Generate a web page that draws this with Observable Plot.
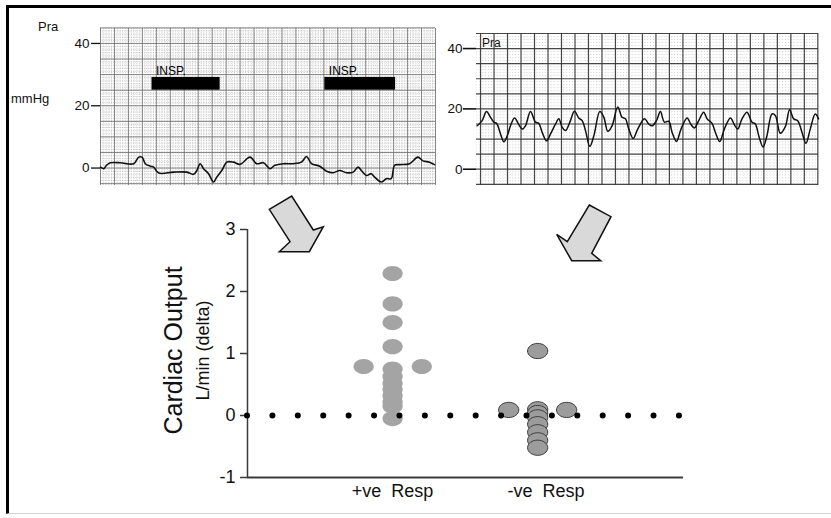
<!DOCTYPE html>
<html><head><meta charset="utf-8">
<script src="https://cdn.jsdelivr.net/npm/d3@7"></script>
<script src="https://cdn.jsdelivr.net/npm/@observablehq/plot@0.6"></script>
<style>
html,body{margin:0;padding:0;background:#fff;overflow:hidden;}
#page{position:relative;width:831px;height:518px;overflow:hidden;font-family:"Liberation Sans",Arial,sans-serif;}
.abs{position:absolute;}
#frame{position:absolute;left:6px;top:5px;width:840px;height:509px;border-top:3px solid #000;border-left:3px solid #000;border-bottom:1px solid #d4d4d4;box-sizing:border-box;}
.lbl{position:absolute;font-size:13px;line-height:13px;color:#111;white-space:nowrap;}
</style></head>
<body><div id="page">
<div id="frame"></div>
<div id="leftTrace" class="abs" style="left:0;top:0"></div>
<div id="rightTrace" class="abs" style="left:440px;top:0"></div>
<div id="scatter" class="abs" style="left:150px;top:215px"></div>
<div class="lbl" style="left:38px;top:20px">Pra</div>
<div class="lbl" style="left:11px;top:92px">mmHg</div>
<svg class="abs" style="left:0;top:0;pointer-events:none" width="831" height="518" aria-hidden="true">
  <!-- decorative block arrows -->
  <polygon points="269.3,209.3 291.7,196 313.3,230 323.3,226.7 309.3,251.7 279.3,251.7 290,241.7" fill="#d9d9d9" stroke="#111" stroke-width="1.5" stroke-linejoin="miter"/>
  <polygon points="589.3,205 611,216.7 591.7,253.3 600.7,260.7 571.7,260.7 556.7,234.3 567.3,241.7" fill="#d9d9d9" stroke="#111" stroke-width="1.5" stroke-linejoin="miter"/>
</svg>
</div>
<script>
// ---- Left trace (Pra with respiratory variation) ----
const leftT = [0,0.24,0.43,0.71,1.43,2.38,2.74,2.98,3.21,3.57,3.81,4.17,5.24,6.19,6.67,6.9,7.14,7.38,7.74,8.1,8.33,8.69,9.05,9.52,10.0,10.71,11.19,11.67,12.14,12.5,13.1,13.81,14.4,14.76,15.12,15.71,16.19,16.67,17.14,17.62,18.1,18.45,18.69,19.05,19.4,19.64,20.12,20.48,20.83,21.07,21.43,22.14,22.74,23.1,23.57,23.93];
const leftP = [0.3,-0.2,0.9,1.7,1.7,1.4,3.5,3.5,1.4,0.6,0.3,-1.6,-1.3,-1.3,-2.0,-0.8,1.4,-0.2,-1.8,-4.5,-2.9,-0.8,1.9,1.9,1.2,3.5,1.4,1.7,-0.2,0.9,1.4,1.4,1.9,3.7,1.4,0.6,-1.0,-1.5,-0.8,-1.5,-1.3,0.3,-0.8,-2.4,-1.8,-2.9,-4.5,-3.4,-3.4,0.9,1.1,1.4,3.5,2.3,1.9,1.1];
const inspLabels = ["INSP.", "INSP."];
const inspStart = [3.69, 16.07];
const inspEnd = [8.57, 21.14];
const inspLow = [25.0, 25.0];
const inspHigh = [29.1, 29.1];
const leftYTicks = [0, 20, 40];

// ---- Right trace (Pra without respiratory variation) ----
const rightT = [-0.25,0.12,0.44,0.74,0.99,1.19,1.48,1.73,1.98,2.22,2.52,2.84,3.09,3.33,3.7,4.07,4.32,4.57,4.89,5.19,5.56,5.8,6.05,6.3,6.62,6.96,7.28,7.53,7.78,8.1,8.4,8.84,9.14,9.43,9.75,10.17,10.49,10.74,10.99,11.31,11.65,12.15,12.47,12.72,13.04,13.33,13.63,13.95,14.2,14.52,14.86,15.31,15.6,15.85,16.17,16.54,16.79,17.16,17.41,17.73,18.07,18.52,18.81,19.06,19.38,19.75,20.12,20.37,20.62,20.94,21.23,21.6,21.85,22.22,22.59,22.91,23.21,23.51,23.83,24.12,24.44,24.81,25.05];
const rightP = [14.4,16.1,19.1,17.2,15.6,15.2,11.7,9.1,11.1,14.4,17.0,14.8,13.3,14.4,19.1,15.6,15.2,12.2,9.4,11.7,15.0,16.7,13.9,12.8,15.6,19.2,17.0,16.1,12.8,7.6,11.1,19.1,17.2,12.6,14.4,20.6,17.2,16.7,13.3,10.2,13.3,16.7,15.0,14.4,16.1,19.1,15.6,15.9,12.2,9.2,13.3,17.0,14.8,13.7,16.1,18.9,16.7,15.2,12.2,9.2,13.3,17.0,14.8,13.3,16.7,18.9,15.6,15.0,11.1,7.4,11.1,18.3,17.8,11.9,14.1,19.7,16.7,16.1,12.2,8.6,13.3,18.3,16.7];
const rightYTicks = [0, 20, 40];
const traceLabel = ["Pra"];

// ---- Scatter: change in cardiac output ----
const categories = ["+ve  Resp", "-ve  Resp"];
const categoryPos = [5.71, 11.42];
const categoryLabelPos = [5.71, 11.75];
const posValues  = [2.29, 1.8, 1.5, 1.11, 0.79, 0.79, 0.75, 0.63, 0.52, 0.42, 0.32, 0.22, 0.15, -0.05];
const posOffsets = [0, 0, 0, 0, -1.14, 1.15, 0, 0, 0, 0, 0, 0, 0, 0];
const negValues  = [1.04, 0.09, 0.09, 0.1, 0.04, -0.03, -0.14, -0.27, -0.4, -0.52];
const negOffsets = [0, -1.14, 1.14, 0, 0, 0, 0, 0, 0, 0];
const scatterYTicks = [-1, 0, 1, 2, 3];

const font = "Liberation Sans, Arial, sans-serif";
const fmt = d => String(d);

// ---------- left trace ----------
const minorL_X = d3.range(0, 24.001, 0.2);
const majorL_X = d3.range(0, 24.001, 1);
const minorL_Y = d3.range(-5, 45.001, 1);
const majorL_Y = d3.range(-5, 45.001, 5);
const leftData = leftT.map((t, i) => ({t, p: leftP[i]}));
const inspData = inspLabels.map((s, i) => ({s, x1: inspStart[i], x2: inspEnd[i], y1: inspLow[i], y2: inspHigh[i]}));

const left = Plot.plot({
  width: 440, height: 195,
  marginLeft: 100, marginRight: 5, marginTop: 28, marginBottom: 10,
  style: {fontFamily: font, background: "transparent", color: "#111", overflow: "visible"},
  x: {domain: [0, 24], axis: null},
  y: {domain: [-5.6, 44.8], axis: null},
  marks: [
    Plot.gridX(minorL_X, {stroke: "#9a9a9a", strokeOpacity: 0.55, strokeDasharray: "1 1.2"}),
    Plot.gridY(minorL_Y, {stroke: "#9a9a9a", strokeOpacity: 0.55, strokeDasharray: "1 1.2"}),
    Plot.gridX(majorL_X, {stroke: "#666", strokeOpacity: 0.85, strokeWidth: 0.9}),
    Plot.gridY(majorL_Y, {stroke: "#666", strokeOpacity: 0.85, strokeWidth: 0.9}),
    Plot.axisY(leftYTicks, {tickSize: 9, tickPadding: 2, fontSize: 13.5, tickFormat: fmt, strokeWidth: 1.3, stroke: "#111", label: null}),
    Plot.rect(inspData, {x1: "x1", x2: "x2", y1: "y1", y2: "y2", fill: "#000"}),
    Plot.text(inspData, {x: "x1", y: d => d.y2 + 1.9, text: "s", textAnchor: "start", dx: 4, fontSize: 12, fill: "#000"}),
    Plot.line(leftData, {x: "t", y: "p", stroke: "#111", strokeWidth: 1.6, curve: "catmull-rom"})
  ]
});
document.getElementById("leftTrace").append(left);

// ---------- right trace ----------
const minorR_X = d3.range(0, 25.001, 0.2);
const majorR_X = d3.range(0, 25.001, 1);
const majorR_Y = d3.range(-5, 45.001, 5);
const minorR_Y = d3.range(-5, 45.001, 1);
const rightData = rightT.map((t, i) => ({t, p: rightP[i]}));

const right = Plot.plot({
  width: 391, height: 195,
  marginLeft: 36, marginRight: 13, marginTop: 33, marginBottom: 10,
  style: {fontFamily: font, background: "transparent", color: "#111", overflow: "visible"},
  x: {domain: [-0.3, 25.05], axis: null},
  y: {domain: [-5.4, 45], axis: null},
  marks: [
    Plot.gridX(minorR_X, {stroke: "#aaa", strokeOpacity: 0.3, strokeDasharray: "1 2"}),
    Plot.gridY(minorR_Y, {stroke: "#aaa", strokeOpacity: 0.3, strokeDasharray: "1 2"}),
    Plot.gridX(majorR_X, {stroke: "#333", strokeOpacity: 0.9, strokeWidth: 1.2}),
    Plot.gridY(majorR_Y, {stroke: "#333", strokeOpacity: 0.9, strokeWidth: 1.2}),
    Plot.axisY(rightYTicks, {tickSize: 13, tickPadding: 1, fontSize: 13.5, tickFormat: fmt, strokeWidth: 1.6, stroke: "#111", label: null}),
    Plot.text(traceLabel, {x: 0.1, y: 41.7, textAnchor: "start", fontSize: 12, fill: "#111"}),
    Plot.line(rightData, {x: "t", y: "p", stroke: "#111", strokeWidth: 1.5, curve: "catmull-rom"})
  ]
});
document.getElementById("rightTrace").append(right);

// ---------- scatter ----------
const ellipse = {
  draw(ctx, size) {
    const r = Math.sqrt(size / Math.PI), rx = r * 1.33, ry = r, k = 0.5523;
    ctx.moveTo(rx, 0);
    ctx.bezierCurveTo(rx, ry * k, rx * k, ry, 0, ry);
    ctx.bezierCurveTo(-rx * k, ry, -rx, ry * k, -rx, 0);
    ctx.bezierCurveTo(-rx, -ry * k, -rx * k, -ry, 0, -ry);
    ctx.bezierCurveTo(rx * k, -ry, rx, -ry * k, rx, 0);
    ctx.closePath();
  }
};
const posData = posValues.map((v, i) => ({x: categoryPos[0] + posOffsets[i], y: v}));
const negData = negValues.map((v, i) => ({x: categoryPos[1] + negOffsets[i], y: v}));
const catData = categories.map((name, i) => ({name, x: categoryLabelPos[i]}));

const sW = 550, sML = 97, sMR = 17, xMax = 17.16;
const unit = (sW - sML - sMR) / xMax;

const scatter = Plot.plot({
  width: sW, height: 300,
  marginLeft: sML, marginRight: sMR, marginTop: 14, marginBottom: 38,
  style: {fontFamily: font, background: "transparent", color: "#111", overflow: "visible"},
  x: {domain: [0, xMax], axis: null},
  y: {domain: [-1, 3], axis: null},
  marks: [
    Plot.ruleY([-1], {stroke: "#3a3a3a", strokeWidth: 2}),
    Plot.ruleX([0], {stroke: "#3a3a3a", strokeWidth: 1.5}),
    Plot.axisY(scatterYTicks, {tickSize: 7, tickPadding: 5, fontSize: 18, tickFormat: fmt, stroke: "#3a3a3a", strokeWidth: 1.5, label: null}),
    Plot.dot(posData, {x: "x", y: "y", r: 7.6, symbol: ellipse, fill: "#a4a4a4", stroke: "none"}),
    Plot.dot(negData, {x: "x", y: "y", r: 7.6, symbol: ellipse, fill: "#9c9c9c", stroke: "#3c3c3c", strokeWidth: 1}),
    Plot.ruleY([0], {stroke: "#000", strokeWidth: 6, strokeLinecap: "round", strokeDasharray: `0 ${unit}`}),
    Plot.text(catData, {x: "x", frameAnchor: "bottom", dy: 19, text: "name", fontSize: 18, fill: "#111"}),
    Plot.text(["Cardiac Output"], {frameAnchor: "left", textAnchor: "middle", dx: -74, dy: -3, rotate: -90, fontSize: 25, fill: "#111"}),
    Plot.text(["L/min (delta)"], {frameAnchor: "left", textAnchor: "middle", dx: -44, dy: -3, rotate: -90, fontSize: 18, fill: "#111"})
  ]
});
document.getElementById("scatter").append(scatter);
</script>
</body></html>
